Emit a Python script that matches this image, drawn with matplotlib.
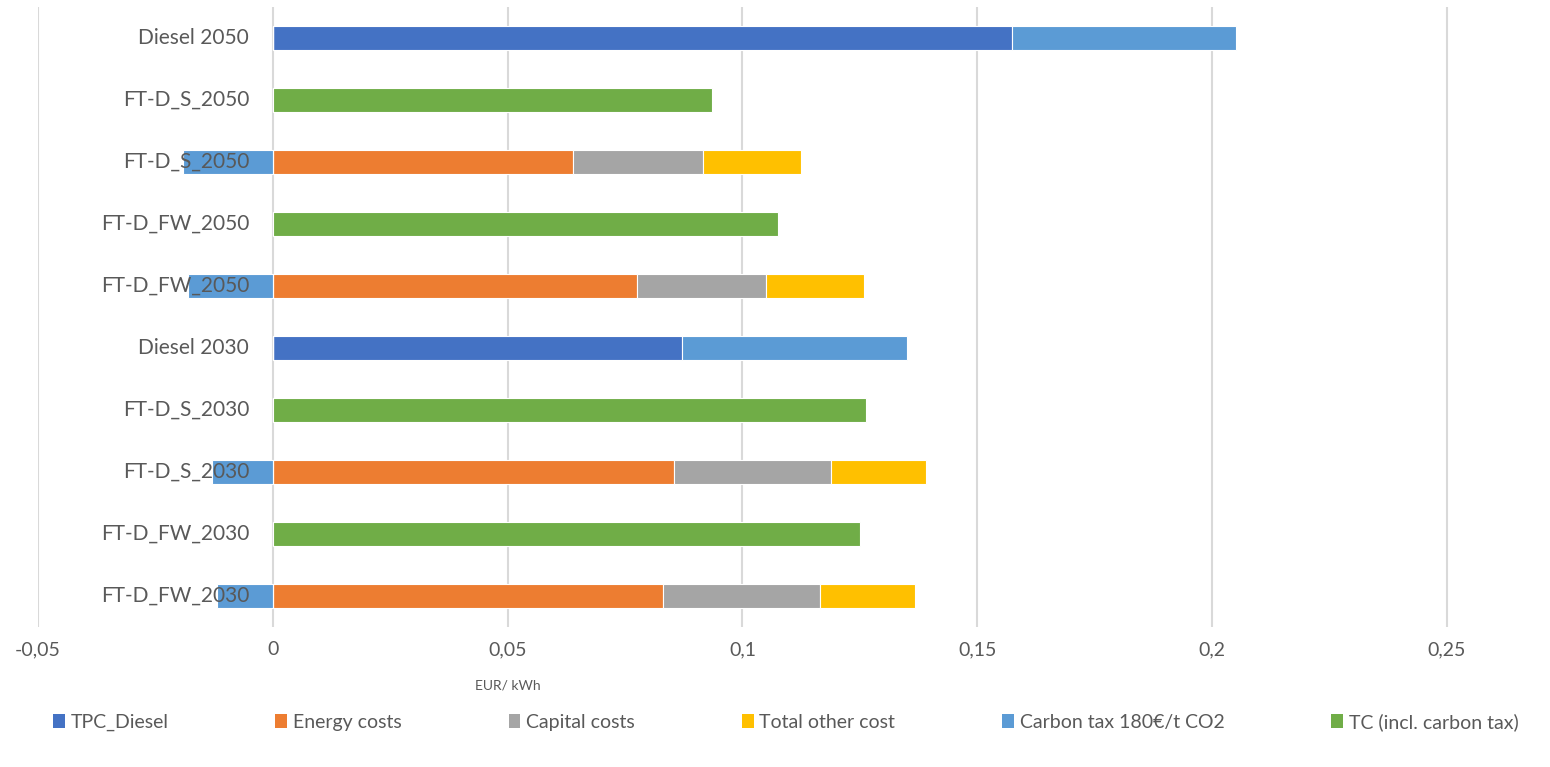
import numpy as np
import matplotlib.pyplot as plt
from matplotlib.patches import Patch

plt.rcParams['font.family'] = ['Lato', 'DejaVu Sans']

# categories from top to bottom
categories = ['Diesel 2050', 'FT-D_S_2050', 'FT-D_S_2050', 'FT-D_FW_2050', 'FT-D_FW_2050',
              'Diesel 2030', 'FT-D_S_2030', 'FT-D_S_2030', 'FT-D_FW_2030', 'FT-D_FW_2030']

# cost components in EUR/kWh (0 where a row has no such component)
tpc_diesel   = [0.1574, 0, 0, 0, 0, 0.0871, 0, 0, 0, 0]
energy_costs = [0, 0, 0.0639, 0, 0.0775, 0, 0, 0.0854, 0, 0.0830]
capital      = [0, 0, 0.0277, 0, 0.0275, 0, 0, 0.0334, 0, 0.0336]
other_cost   = [0, 0, 0.0209, 0, 0.0209, 0, 0, 0.0204, 0, 0.0202]
carbon_tax   = [0.0477, 0, -0.0192, 0, -0.0181, 0.0479, 0, -0.0130, 0, -0.0119]
tc_total     = [0, 0.0935, 0, 0.1075, 0, 0, 0.1263, 0, 0.1250, 0]

xticks = [-0.05, 0, 0.05, 0.1, 0.15, 0.2, 0.25]
xtick_labels = ['-0,05', '0', '0,05', '0,1', '0,15', '0,2', '0,25']

colors = {'TPC_Diesel': '#4472C4', 'Energy costs': '#ED7D31', 'Capital costs': '#A5A5A5',
          'Total other cost': '#FFC000', 'Carbon tax 180€/t CO2': '#5B9BD5',
          'TC (incl. carbon tax)': '#70AD47'}
text_col = '#595959'

fig = plt.figure(figsize=(15.5, 7.67), dpi=100)
ax = fig.add_axes([38 / 1550, 1 - 627 / 767, 1512 / 1550, 620 / 767])

y = np.arange(len(categories))
h = 0.39
kw = dict(height=h, edgecolor='white', linewidth=0.8, zorder=2)

tpc = np.array(tpc_diesel)
en = np.array(energy_costs)
cap = np.array(capital)
oth = np.array(other_cost)
ct = np.array(carbon_tax)

ax.barh(y, tpc, color=colors['TPC_Diesel'], **kw)
ax.barh(y, en, color=colors['Energy costs'], **kw)
ax.barh(y, cap, left=en, color=colors['Capital costs'], **kw)
ax.barh(y, oth, left=en + cap, color=colors['Total other cost'], **kw)
# carbon tax stacks on top of diesel, or runs negative from zero for the FT-D rows
ct_left = np.where(ct > 0, tpc, 0)
ax.barh(y, ct, left=ct_left, color=colors['Carbon tax 180€/t CO2'], **kw)
ax.barh(y, tc_total, color=colors['TC (incl. carbon tax)'], **kw)

# 0.05 per ~235 px, axis runs off the right edge past 0.25
ax.set_xlim(-0.05, -0.05 + 1512 / 4696)
ax.set_ylim(len(categories) - 0.5, -0.5)
ax.set_xticks(xticks)
ax.set_xticklabels(xtick_labels, fontsize=14, color=text_col)
ax.set_yticks([])
ax.tick_params(axis='x', length=0, pad=10)
ax.grid(axis='x', color='#D9D9D9', linewidth=1.5, zorder=0)
ax.set_axisbelow(True)
for s in ax.spines.values():
    s.set_visible(False)

# category labels sit just left of the zero line, on top of the bars
for yi, name in zip(y, categories):
    ax.annotate(name, xy=(0, yi), xytext=(-17, 0), textcoords='offset points',
                ha='right', va='center', fontsize=15, color=text_col, zorder=5)

ax.set_xlabel('EUR/ kWh', fontsize=10, color=text_col)
ax.xaxis.set_label_coords((508 - 38) / 1512, -(680 - 627) / 620)

handles = [Patch(facecolor=c, label=k) for k, c in colors.items()]
fig.legend(handles=handles, loc='center', bbox_to_anchor=(0.507, 1 - 722 / 767), ncol=6,
           frameon=False, fontsize=14, labelcolor=text_col, handlelength=0.6,
           handleheight=0.7, handletextpad=0.3, columnspacing=5.5)

fig.savefig('out.png', dpi=100)
